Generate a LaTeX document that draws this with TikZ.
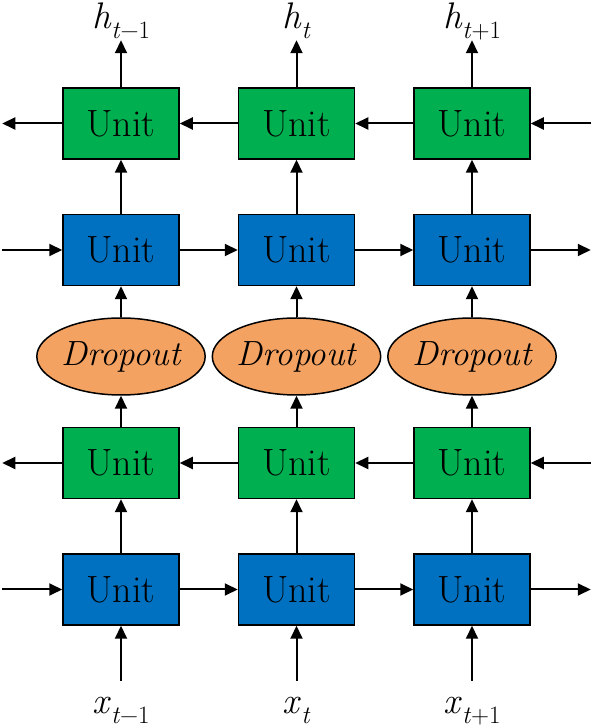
\documentclass[tikz,border=0pt]{standalone}
\usepackage{fontspec}
\usepackage{xcolor}
\usetikzlibrary{positioning, arrows.meta, shapes.geometric}
\definecolor{unitblue}{RGB}{0,112,192}
\definecolor{unitgreen}{RGB}{0,176,80}
\definecolor{droporange}{RGB}{244,162,97}
\newcommand{\seqlabel}[3]{\textit{#1}\raisebox{-10pt}{\fontsize{25pt}{25pt}\selectfont\textit{#2}#3}}
\tikzset{
    >={Triangle[length=13pt, width=12pt]}, % filled arrow heads
    unit/.style={draw=black, line width=1.5pt, minimum width=116pt, minimum height=71pt, inner sep=0pt, font=\fontsize{38pt}{38pt}\selectfont},
    fwd/.style={unit, fill=unitblue}, % forward layer
    bwd/.style={unit, fill=unitgreen}, % backward layer
    drop/.style={ellipse, draw=black, line width=1.5pt, fill=droporange, minimum width=164pt, minimum height=77pt, inner sep=0pt, font=\fontsize{35pt}{35pt}\selectfont\itshape},
    seq/.style={inner sep=2pt, text height=31pt, text depth=10pt, font=\fontsize{37pt}{37pt}\selectfont},
    outlabel/.style={seq, text height=25pt},
    link/.style={line width=2pt, ->},
}
\begin{document}
\begin{tikzpicture}
    \useasboundingbox (0,0) rectangle (590pt,728pt);

    % first forward layer
    \node[fwd] (b1) at (121pt,138.5pt) {Unit};
    \node[fwd, right=58pt of b1] (b2) {Unit};
    \node[fwd, right=58pt of b2] (b3) {Unit};
    % first backward layer
    \node[bwd, above=54pt of b1] (g1) {Unit};
    \node[bwd, above=54pt of b2] (g2) {Unit};
    \node[bwd, above=54pt of b3] (g3) {Unit};
    % dropout
    \node[drop, above=31pt of g1] (d1) {Dropout};
    \node[drop, above=31pt of g2] (d2) {Dropout};
    \node[drop, above=31pt of g3] (d3) {Dropout};
    % second forward layer
    \node[fwd, above=31pt of d1] (u1) {Unit};
    \node[fwd, above=31pt of d2] (u2) {Unit};
    \node[fwd, above=31pt of d3] (u3) {Unit};
    % second backward layer
    \node[bwd, above=54pt of u1] (t1) {Unit};
    \node[bwd, above=54pt of u2] (t2) {Unit};
    \node[bwd, above=54pt of u3] (t3) {Unit};

    % inputs and outputs
    \node[seq, below=55pt of b1] (x1) {\seqlabel{x}{t}{−1}};
    \node[seq, below=55pt of b2] (x2) {\seqlabel{x}{t}{}};
    \node[seq, below=55pt of b3] (x3) {\seqlabel{x}{t}{+1}};
    \node[outlabel, above=47pt of t1] (h1) {\seqlabel{h}{t}{−1}};
    \node[outlabel, above=47pt of t2] (h2) {\seqlabel{h}{t}{}};
    \node[outlabel, above=47pt of t3] (h3) {\seqlabel{h}{t}{+1}};

    % free ends of the sideways arrows
    \coordinate[left=60pt of b1] (bl);
    \coordinate[right=60pt of b3] (br);
    \coordinate[left=60pt of g1] (gl);
    \coordinate[right=60pt of g3] (gr);
    \coordinate[left=60pt of u1] (ul);
    \coordinate[right=60pt of u3] (ur);
    \coordinate[left=60pt of t1] (tl);
    \coordinate[right=60pt of t3] (tr);

    \foreach \i in {1,2,3} {
        \draw[link] (x\i) -- (b\i);
        \draw[link] (b\i) -- (g\i);
        \draw[link] (g\i) -- (d\i);
        \draw[link] (d\i) -- (u\i);
        \draw[link] (u\i) -- (t\i);
        \draw[link] (t\i) -- (h\i);
    }

    \path[link]
        (bl) edge (b1)  (b1) edge (b2)  (b2) edge (b3)  (b3) edge (br)
        (ul) edge (u1)  (u1) edge (u2)  (u2) edge (u3)  (u3) edge (ur)
        (gr) edge (g3)  (g3) edge (g2)  (g2) edge (g1)  (g1) edge (gl)
        (tr) edge (t3)  (t3) edge (t2)  (t2) edge (t1)  (t1) edge (tl);
\end{tikzpicture}
\end{document}
